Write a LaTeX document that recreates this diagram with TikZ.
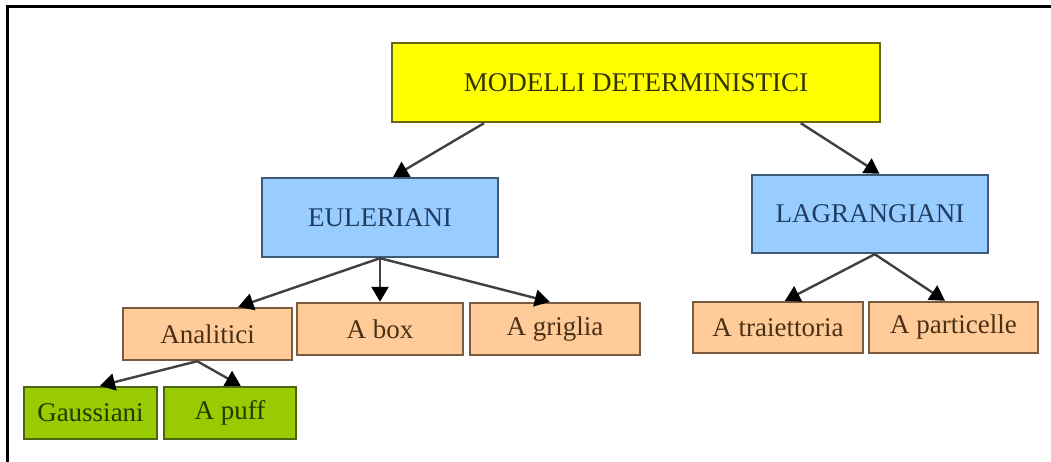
\documentclass[tikz,border=0pt]{standalone}
\usepackage{fontspec}
\setmainfont{Liberation Serif}
\usetikzlibrary{arrows.meta,calc}
\definecolor{yfill}{HTML}{FFFF00}
\definecolor{ydraw}{HTML}{66661A}
\definecolor{ytext}{HTML}{333300}
\definecolor{bfill}{HTML}{99CCFF}
\definecolor{bdraw}{HTML}{3F5A78}
\definecolor{btext}{HTML}{1F3D60}
\definecolor{ofill}{HTML}{FFCC99}
\definecolor{odraw}{HTML}{7A5A40}
\definecolor{otext}{HTML}{4A3015}
\definecolor{gfill}{HTML}{99CC00}
\definecolor{gdraw}{HTML}{4C6610}
\definecolor{gtext}{HTML}{223A00}
\definecolor{arrcol}{HTML}{404040}
\tikzset{
  basebox/.style={draw, line width=2.4pt, inner sep=0pt, align=center,
    font=\fontsize{27}{31}\selectfont},
  ybox/.style={basebox, fill=yfill, draw=ydraw, text=ytext},
  bbox/.style={basebox, fill=bfill, draw=bdraw, text=btext},
  obox/.style={basebox, fill=ofill, draw=odraw, text=otext},
  gbox/.style={basebox, fill=gfill, draw=gdraw, text=gtext},
  arr/.style={draw=arrcol, line width=2.4pt, -{Triangle[length=15pt,width=17pt,color=black]}},
}
\begin{document}
\begin{tikzpicture}[x=1pt,y=-1pt]
\useasboundingbox (0,0) rectangle (1051,462);
\fill[white] (0,0) rectangle (1051,462);
\draw[line width=2.5pt] (7.5,462) -- (7.5,6.5) -- (1051,6.5);

\node[ybox, minimum width=488pt, minimum height=79pt] (mod) at (636,82.5) {MODELLI DETERMINISTICI};
\node[bbox, minimum width=236pt, minimum height=79pt] (eul) at (380,217.5) {EULERIANI};
\node[bbox, minimum width=236pt, minimum height=78pt] (lag) at (870,214) {LAGRANGIANI};
\node[obox, minimum width=169pt, minimum height=52pt] (ana) at (207.5,334) {Analitici};
\node[obox, minimum width=166pt, minimum height=52pt] (abox) at (380,329) {A box};
\node[obox, minimum width=170pt, minimum height=52pt] (agri) at (555,329) {A griglia};
\node[obox, minimum width=170pt, minimum height=51pt] (atra) at (778,327.5) {A traiettoria};
\node[obox, minimum width=169pt, minimum height=51pt] (apar) at (953.5,327.5) {A particelle};
\node[gbox, minimum width=133pt, minimum height=52pt] (gau) at (90.5,413) {Gaussiani};
\node[gbox, minimum width=132pt, minimum height=52pt] (puff) at (230,413) {A puff};

\draw[arr] ($(mod.south west)!0.19!(mod.south east)$) -- ($(eul.north west)!0.555!(eul.north east)$);
\draw[arr] ($(mod.south west)!0.836!(mod.south east)$) -- ($(lag.north west)!0.54!(lag.north east)$);
\draw[arr] (eul.south) -- ($(ana.north west)!0.68!(ana.north east)$);
\draw[arr] (eul.south) -- (abox.north);
\draw[arr] (eul.south) -- ($(agri.north west)!0.47!(agri.north east)$);
\draw[arr] ($(lag.south west)!0.52!(lag.south east)$) -- ($(atra.north west)!0.54!(atra.north east)$);
\draw[arr] ($(lag.south west)!0.52!(lag.south east)$) -- ($(apar.north west)!0.45!(apar.north east)$);
\draw[arr] ($(ana.south west)!0.44!(ana.south east)$) -- ($(gau.north west)!0.57!(gau.north east)$);
\draw[arr] ($(ana.south west)!0.44!(ana.south east)$) -- ($(puff.north west)!0.58!(puff.north east)$);
\end{tikzpicture}
\end{document}
